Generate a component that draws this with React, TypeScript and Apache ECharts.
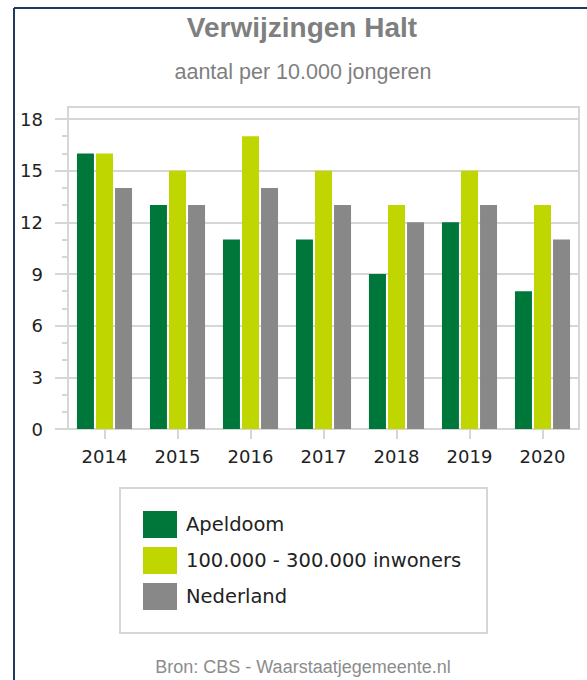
import React, { useEffect, useRef } from "react";
import * as echarts from "echarts";

const years = ["2014", "2015", "2016", "2017", "2018", "2019", "2020"];
const apeldoorn = [16, 13, 11, 11, 9, 12, 8];
const inwoners = [16, 15, 17, 15, 13, 15, 13];
const nederland = [14, 13, 14, 13, 12, 13, 11];
const seriesNames = ["Apeldoom", "100.000 - 300.000 inwoners", "Nederland"];
const colors = ["#00773A", "#BFD600", "#888888"];

export default function App() {
  const ref = useRef<HTMLDivElement>(null);
  useEffect(() => {
    document.body.style.margin = "0";
    const chart = echarts.init(ref.current!, null, { renderer: "svg" });
    const gridC = "#d6d6d6";
    chart.setOption({
      animation: false,
      backgroundColor: "#ffffff",
      grid: { left: 68, right: 8, top: 119, bottom: 251, containLabel: false },
      legend: {
        orient: "vertical",
        left: 143,
        top: 511,
        padding: 0,
        itemWidth: 34,
        itemHeight: 27,
        itemGap: 9,
        icon: "rect",
        data: seriesNames,
        textStyle: {
          fontFamily: "DejaVu Sans",
          fontSize: 19.5,
          color: "#222",
          padding: [0, 0, 0, 4],
        },
      },
      xAxis: {
        type: "category",
        data: years,
        axisLine: { show: true, lineStyle: { color: gridC, width: 2 } },
        axisTick: { show: true, alignWithLabel: true, length: 10, lineStyle: { color: gridC, width: 2 } },
        axisLabel: { margin: 18, fontFamily: "DejaVu Sans", fontSize: 18, color: "#222" },
      },
      yAxis: {
        type: "value",
        min: 0,
        max: 18,
        interval: 3,
        axisLine: { show: false },
        axisTick: { show: true, length: 13, lineStyle: { color: gridC, width: 2 } },
        minorTick: { show: true, splitNumber: 3, length: 6, lineStyle: { color: gridC, width: 2 } },
        splitLine: { show: true, lineStyle: { color: gridC, width: 2 } },
        axisLabel: { margin: 25, fontFamily: "DejaVu Sans", fontSize: 18, color: "#222" },
      },
      series: [
        { name: seriesNames[0], type: "bar", data: apeldoorn, itemStyle: { color: colors[0] }, barWidth: 17, barGap: "12%" },
        { name: seriesNames[1], type: "bar", data: inwoners, itemStyle: { color: colors[1] }, barWidth: 17, barGap: "12%" },
        { name: seriesNames[2], type: "bar", data: nederland, itemStyle: { color: colors[2] }, barWidth: 17, barGap: "12%" },
      ],
      graphic: [
        { type: "rect", z: -1, shape: { x: 68, y: 107, width: 511, height: 322 }, style: { fill: "none", stroke: gridC, lineWidth: 2 } },
        { type: "rect", z: -1, shape: { x: 120, y: 488, width: 367, height: 145 }, style: { fill: "none", stroke: gridC, lineWidth: 2 } },
        { type: "line", shape: { x1: 14, y1: 8, x2: 14, y2: 680 }, style: { stroke: "#1f3a5f", lineWidth: 2 } },
        { type: "line", shape: { x1: 14, y1: 8, x2: 587, y2: 8 }, style: { stroke: "#1f3a5f", lineWidth: 2 } },
        {
          type: "text", x: 302, y: 27,
          style: { text: "Verwijzingen Halt", fontFamily: "Liberation Sans", fontWeight: "bold", fontSize: 28, fill: "#7f7f7f", textAlign: "center", textVerticalAlign: "middle" },
        },
        {
          type: "text", x: 303, y: 72,
          style: { text: "aantal per 10.000 jongeren", fontFamily: "Liberation Sans", fontSize: 21.5, fill: "#7f7f7f", textAlign: "center", textVerticalAlign: "middle" },
        },
        {
          type: "text", x: 303, y: 667,
          style: { text: "Bron: CBS - Waarstaatjegemeente.nl", fontFamily: "Liberation Sans", fontSize: 18, fill: "#8c8c8c", textAlign: "center", textVerticalAlign: "middle" },
        },
      ],
    });
    return () => chart.dispose();
  }, []);
  return <div ref={ref} style={{ width: 587, height: 680 }} />;
}
